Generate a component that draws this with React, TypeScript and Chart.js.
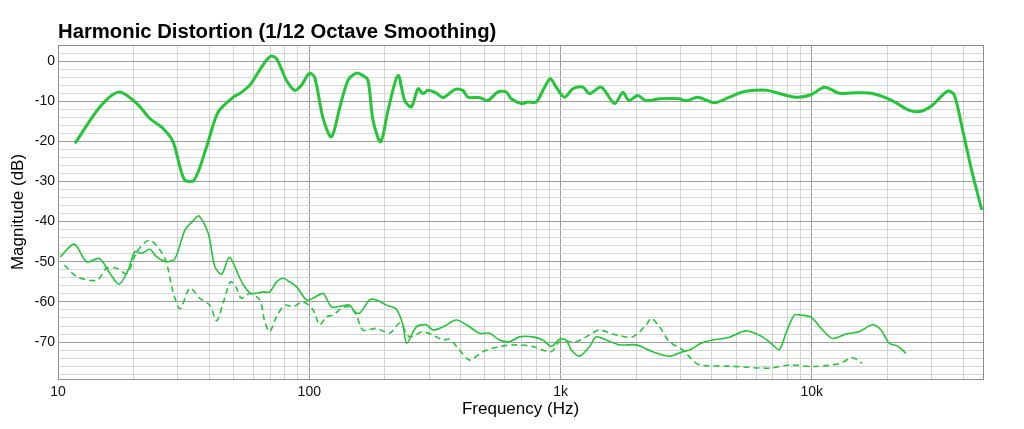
import { useEffect, useRef } from "react";
import { Chart, registerables } from "chart.js";

Chart.register(...registerables);

const TITLE = "Harmonic Distortion (1/12 Octave Smoothing)";
const FONT = "'Liberation Sans', Arial, Helvetica, sans-serif";
const GREEN = "rgb(38,196,58)";

// fundamental (thick)
const mainFreq = [
  11.7, 14.7, 17.5, 20.6, 23.2, 26.2, 28.7, 31.8, 34.8, 39, 43.4, 49.8, 52.9, 58, 64.6, 70.1, 74.1, 81.1,
  87.5, 93.1, 100, 105, 113.5, 122.5, 132, 142.6, 154, 163.6, 171.3, 179.4, 192.4, 205.7, 225.5, 239.7,
  254.8, 270.8, 283.3, 296.7, 320, 341, 379, 408, 428, 476, 514, 564, 608, 637, 698, 741, 800, 851, 910,
  961, 1037, 1119, 1227, 1304, 1452, 1640, 1770, 1870, 2028, 2193, 2476, 2974, 3162, 3516, 4093, 4696,
  5305, 5998, 6670, 7430, 8650, 9930, 11220, 12850, 15450, 17460, 20960, 24430, 27170, 30200, 34670,
  36900, 39830, 43550, 47500,
];
const mainDb = [
  -20.5, -11.4, -7.7, -10.6, -14.3, -16.8, -20.1, -29.5, -29.7, -21.4, -12.7, -9.0, -8.1, -6.0, -1.5, 1.2,
  0.6, -4.8, -7.3, -6.0, -3.1, -4.0, -14.3, -18.9, -11.8, -4.8, -3.0, -3.6, -4.8, -14.8, -20.1, -12.3,
  -3.6, -9.8, -11.4, -6.9, -8.1, -7.3, -8.0, -9.1, -7.1, -7.3, -9.0, -9.1, -9.8, -7.7, -7.7, -9.4, -10.6,
  -10.2, -10.2, -7.3, -4.4, -6.5, -9.0, -6.9, -6.5, -8.1, -6.5, -10.6, -7.8, -9.8, -8.6, -9.9, -9.4, -9.4,
  -9.9, -9.0, -10.4, -9.0, -7.7, -7.3, -7.3, -8.1, -9.0, -8.4, -6.5, -8.0, -7.9, -8.1, -9.9, -12.3, -12.5,
  -11.0, -7.5, -8.5, -17.2, -28.0, -37.1,
];

// 2nd harmonic (thin solid)
const h2Freq = [
  10.2, 11.6, 13, 14.6, 16.1, 17.5, 19, 20.2, 21.5, 23.2, 24.7, 27, 29.2, 32, 34.5, 36.4, 39.6, 42.1, 44.8,
  48, 50.6, 52.9, 56.3, 58.9, 65.5, 69.6, 74.1, 78.7, 83.6, 88.9, 97.5, 103.5, 113.5, 122.5, 134.3, 144.9,
  151.7, 158.8, 174, 185, 202.8, 222, 236, 244, 267, 292, 311, 341, 385, 422, 476, 522, 572, 627, 687, 776,
  851, 918, 991, 1054, 1104, 1191, 1304, 1387, 1521, 1718, 1999, 2329, 2713, 3063, 3258, 3624, 4034, 4696,
  5470, 6370, 6985, 7430, 7890, 8510, 9060, 9930, 11040, 12100, 13680, 15450, 17460, 18850, 20330, 21940,
  23700,
];
const h2Db = [
  -48.8, -45.6, -50.0, -49.2, -52.9, -55.6, -52.1, -47.5, -47.9, -46.9, -48.8, -50.0, -49.2, -42.1, -39.8,
  -38.6, -42.9, -51.2, -53.1, -48.9, -51.2, -54.1, -56.9, -57.9, -57.5, -57.5, -55.0, -54.1, -55.0, -56.2,
  -59.5, -59.1, -57.9, -61.2, -61.0, -60.8, -62.4, -62.8, -59.5, -59.5, -60.8, -61.8, -65.7, -70.3, -66.2,
  -65.7, -67.0, -66.2, -64.5, -65.7, -67.8, -67.8, -69.5, -69.9, -68.7, -68.7, -69.5, -71.1, -69.3, -69.5,
  -72.0, -73.5, -71.1, -68.7, -69.5, -70.7, -70.7, -72.4, -73.5, -72.4, -72.0, -70.3, -69.5, -68.8, -67.2,
  -68.7, -70.7, -71.9, -67.8, -63.3, -63.3, -63.8, -67.0, -69.1, -68.0, -67.4, -65.7, -67.0, -70.3, -71.0,
  -72.8,
];

// 3rd harmonic (thin dashed)
const h3Freq = [
  10.6, 11.9, 14.3, 15.6, 17.1, 18.8, 20.6, 23.1, 25.4, 27, 28.7, 30.6, 33.5, 36.7, 40.2, 42.8, 45.4, 48.6,
  51, 53.7, 58, 63.5, 66.5, 69.6, 74, 80, 86.2, 94.4, 103.5, 110, 117, 124.4, 134.3, 145, 154, 163.6, 185,
  209, 229, 251, 283, 320, 341, 362, 396, 435, 491, 572, 667, 776, 918, 991, 1154, 1304, 1429, 1665, 1938,
  2193, 2296, 2476, 2713, 3063, 3357, 3570, 4696, 6776, 8130, 10100, 12850, 14520, 15850,
];
const h3Db = [
  -50.8, -53.7, -54.6, -51.6, -51.6, -52.9, -47.5, -44.6, -47.0, -50.2, -57.5, -61.7, -56.6, -59.1, -60.8,
  -64.7, -60.3, -55.0, -56.2, -59.1, -57.9, -59.5, -64.9, -67.4, -63.7, -60.8, -61.2, -60.0, -62.0, -65.7,
  -63.7, -63.3, -61.6, -61.2, -63.3, -67.0, -66.6, -67.8, -65.3, -68.7, -67.4, -68.7, -69.5, -69.3, -72.0,
  -74.5, -72.4, -71.1, -70.7, -71.1, -72.4, -69.9, -69.9, -68.2, -67.0, -68.2, -68.7, -65.7, -64.1, -66.2,
  -69.9, -72.0, -74.5, -75.7, -76.0, -76.5, -75.7, -76.1, -75.4, -73.9, -75.3,
];

const freqTicks = [
  10, 20, 30, 40, 50, 60, 70, 80, 90, 100, 200, 300, 400, 500, 600, 700, 800, 900, 1000, 2000, 3000, 4000,
  5000, 6000, 7000, 8000, 9000, 10000, 20000, 30000, 40000,
];
const freqLabels: Record<number, string> = { 10: "10", 100: "100", 1000: "1k", 10000: "10k" };
const dbLabels = [0, -10, -20, -30, -40, -50, -60, -70];

const toPoints = (xs: number[], ys: number[]) => xs.map((x, i) => ({ x, y: ys[i] }));
const isDecade = (v: number) => Math.abs(Math.log10(v) - Math.round(Math.log10(v))) < 1e-9;

const frame = {
  id: "frame",
  beforeDatasetsDraw(chart: Chart) {
    const { ctx, chartArea: a } = chart;
    ctx.save();
    ctx.strokeStyle = "#8e8e8e";
    ctx.lineWidth = 1;
    ctx.strokeRect(Math.round(a.left) + 0.5, Math.round(a.top) + 0.5, a.right - a.left, a.bottom - a.top);
    ctx.restore();
  },
  afterDraw(chart: Chart) {
    const { ctx, chartArea: a } = chart;
    ctx.save();
    ctx.font = `bold 20.3px ${FONT}`;
    ctx.fillStyle = "#000";
    ctx.textBaseline = "alphabetic";
    ctx.fillText(TITLE, a.left, 38);
    ctx.restore();
  },
};

export default function App() {
  const canvasRef = useRef<HTMLCanvasElement>(null);
  const chartRef = useRef<Chart | null>(null);

  useEffect(() => {
    document.body.style.margin = "0";
    if (!canvasRef.current) return;
    if (chartRef.current) chartRef.current.destroy();

    const line = { pointRadius: 0, borderColor: GREEN, fill: false, tension: 0.3 };

    chartRef.current = new Chart(canvasRef.current, {
      type: "line",
      data: {
        datasets: [
          { ...line, label: "Fundamental", data: toPoints(mainFreq, mainDb), borderWidth: 3 },
          { ...line, label: "2nd", data: toPoints(h2Freq, h2Db), borderWidth: 1.6 },
          { ...line, label: "3rd", data: toPoints(h3Freq, h3Db), borderWidth: 1.6, borderDash: [6, 4] },
        ],
      },
      options: {
        animation: false,
        responsive: true,
        maintainAspectRatio: false,
        layout: { padding: { top: 45, right: 41, bottom: 0, left: 0 } },
        plugins: { legend: { display: false }, tooltip: { enabled: false } },
        scales: {
          x: {
            type: "logarithmic",
            min: 10,
            max: 48000,
            afterBuildTicks: (s: any) => {
              s.ticks = freqTicks.map((value) => ({ value }));
            },
            afterFit: (s: any) => {
              s.height = 50;
            },
            border: { display: false },
            grid: {
              drawTicks: false,
              color: (c: any) => (c.tick && isDecade(c.tick.value) ? "#9c9c9c" : "#d2d2d2"),
            },
            ticks: {
              autoSkip: false,
              maxRotation: 0,
              padding: 5,
              color: "#111",
              font: { family: FONT, size: 14 },
              callback: (v: any) => freqLabels[Number(v)] ?? "",
            },
            title: {
              display: true,
              text: "Frequency (Hz)",
              color: "#000",
              font: { family: FONT, size: 17 },
              padding: { top: 0, bottom: 9 },
            },
          },
          y: {
            min: -79.2,
            max: 4,
            afterBuildTicks: (s: any) => {
              const t = [];
              for (let v = -78; v <= 4; v += 2) t.push({ value: v });
              s.ticks = t;
            },
            afterFit: (s: any) => {
              s.width = 58;
            },
            border: { display: false },
            grid: {
              drawTicks: false,
              color: (c: any) => (c.tick && c.tick.value % 10 === 0 ? "#9c9c9c" : "#d6d6d6"),
            },
            ticks: {
              autoSkip: false,
              padding: 3,
              color: "#111",
              font: { family: FONT, size: 14 },
              callback: (v: any) => (dbLabels.includes(Number(v)) ? String(v) : ""),
            },
            title: {
              display: true,
              text: "Magnitude (dB)",
              color: "#000",
              font: { family: FONT, size: 17 },
              padding: { top: 8, bottom: 0 },
            },
          },
        },
      },
      plugins: [frame],
    });

    return () => {
      chartRef.current?.destroy();
      chartRef.current = null;
    };
  }, []);

  return (
    <div style={{ width: 1024, height: 429, position: "relative" }}>
      <canvas ref={canvasRef} />
    </div>
  );
}
